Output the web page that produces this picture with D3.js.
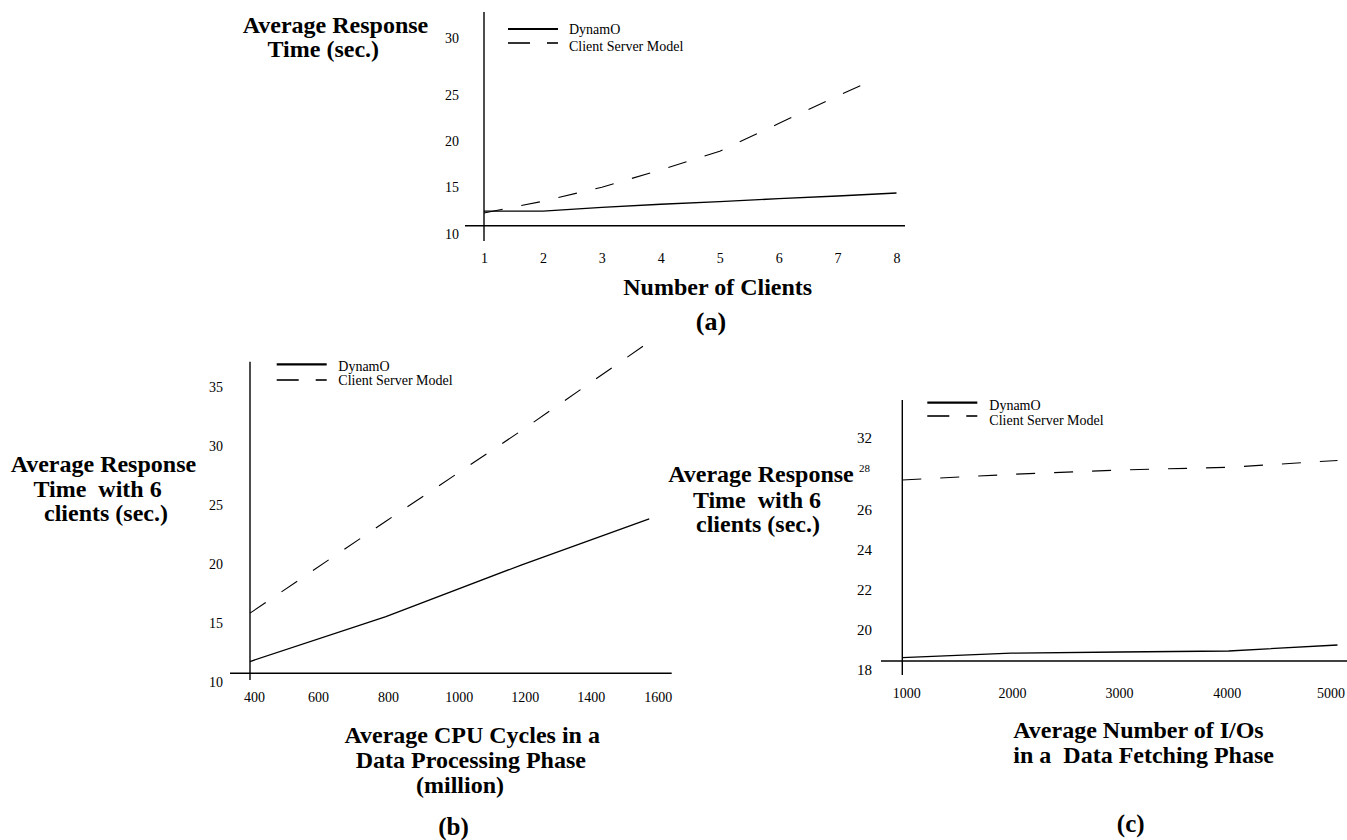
<!DOCTYPE html>
<html><head><meta charset="utf-8">
<script src="https://cdn.jsdelivr.net/npm/d3@7"></script>
<style>body{margin:0;background:#fff} svg{display:block} text{white-space:pre}</style>
</head><body>
<svg id="chart" width="1347" height="840"></svg>
<script>
// ---------------- data ----------------
const seriesNames = ["DynamO", "Client Server Model"];

// (a) Number of Clients vs Average Response Time
const xTicksA = [1, 2, 3, 4, 5, 6, 7, 8];
const yTicksA = [10, 15, 20, 25, 30];
const clientsDynA = [1, 2, 3, 4, 5, 6, 7, 8];
const dynamoA = [11.56, 11.56, 11.95, 12.28, 12.57, 12.87, 13.16, 13.48];
const clientsCsA = [1, 2, 3, 4, 5, 6, 7, 7.6];
const csA = [11.35, 12.6, 14.1, 15.95, 17.98, 21.0, 23.99, 25.59];

// (b) Average CPU cycles vs response time with 6 clients
const xTicksB = [400, 600, 800, 1000, 1200, 1400, 1600];
const yTicksB = [10, 15, 20, 25, 30, 35];
const cpuDynB = [400, 800, 1200, 1575];
const dynamoB = [11.0, 14.8, 19.2, 23.1];
const cpuCsB = [400, 800, 1200, 1600];
const csB = [15.1, 22.9, 30.6, 38.6];

// (c) Average number of I/Os vs response time with 6 clients
const xTicksC = [1000, 2000, 3000, 4000, 5000];
const yTicksC = [18, 20, 22, 24, 26, 28, 32];
const iosC = [1000, 2000, 3000, 4000, 5000];
const dynamoC = [18.17, 18.39, 18.45, 18.5, 18.8];
const csC = [27.01, 27.28, 27.49, 27.62, 27.95];

// ---------------- drawing ----------------
const svg = d3.select("#chart");
const FONT = "'Liberation Serif','Times New Roman',Times,serif";
const DASH = "19,19";

function zip(xs, ys) { return xs.map((x, i) => ({x, y: ys[i]})); }

function panel(cfg) {
  const g = svg.append("g");
  const x = cfg.x, y = cfg.y;
  const x0 = x.domain()[0], y0 = y.domain()[0];

  // axis lines
  g.append("line").attr("x1", x(x0)).attr("x2", x(x0))
    .attr("y1", cfg.yAxisTop).attr("y2", cfg.yAxisBottom)
    .attr("stroke", "#000").attr("stroke-width", 1.4);
  g.append("line").attr("x1", cfg.xAxisLeft).attr("x2", cfg.xAxisRight)
    .attr("y1", y(y0)).attr("y2", y(y0))
    .attr("stroke", "#000").attr("stroke-width", 1.4);

  // y tick labels
  const gy = g.append("g").attr("transform", `translate(${x(x0)},0)`)
    .call(d3.axisLeft(y).tickValues(cfg.yTicks).tickSize(0)
      .tickPadding(x(x0) - cfg.yLabelRight).tickFormat(d3.format("d")));
  gy.select(".domain").remove();
  gy.attr("font-family", FONT).attr("font-size", cfg.yFont || 14);
  gy.selectAll("text").attr("fill", "#000").attr("y", 8.3).attr("dy", "0.34em");
  if (cfg.smallTick !== undefined) {
    gy.selectAll(".tick").filter(d => d === cfg.smallTick)
      .select("text").attr("font-size", 11).attr("dx", -2);
  }

  // x tick labels
  const gx = g.append("g").attr("transform", `translate(0,${y(y0)})`)
    .call(d3.axisBottom(x).tickValues(cfg.xTicks).tickSize(0).tickPadding(0)
      .tickFormat(d3.format("d")));
  gx.select(".domain").remove();
  gx.attr("font-family", FONT).attr("font-size", 14);
  gx.selectAll("text").attr("fill", "#000").attr("y", cfg.xLabelOffset).attr("dy", "0.34em");
  if (cfg.xLabelDx) {
    gx.selectAll("text").attr("dx", (d, i) => cfg.xLabelDx[i] || 0);
  }

  // series
  const line = d3.line().x(d => x(d.x)).y(d => y(d.y));
  g.append("path").datum(zip(cfg.dynX, cfg.dynY)).attr("d", line)
    .attr("fill", "none").attr("stroke", "#000").attr("stroke-width", 1.3);
  g.append("path").datum(zip(cfg.csX, cfg.csY)).attr("d", line)
    .attr("fill", "none").attr("stroke", "#000").attr("stroke-width", 1.1)
    .attr("stroke-dasharray", DASH);

  // legend
  const L = cfg.legend;
  g.append("line").attr("x1", L.x1).attr("x2", L.x2).attr("y1", L.ySolid).attr("y2", L.ySolid)
    .attr("stroke", "#000").attr("stroke-width", 2.2);
  g.append("line").attr("x1", L.x1).attr("x2", L.x2).attr("y1", L.yDash).attr("y2", L.yDash)
    .attr("stroke", "#333").attr("stroke-width", 2).attr("stroke-dasharray", "22,17");
  g.append("text").attr("x", L.tx).attr("y", L.b1).text(seriesNames[0])
    .attr("font-family", FONT).attr("font-size", 14);
  g.append("text").attr("x", L.tx).attr("y", L.b2).text(seriesNames[1])
    .attr("font-family", FONT).attr("font-size", 14);

  // titles
  cfg.titles.forEach(t => {
    g.append("text").attr("x", t[0]).attr("y", t[1]).text(t[2])
      .attr("text-anchor", t[3] || "middle")
      .attr("font-family", FONT).attr("font-weight", "bold")
      .attr("font-size", t[4] || 24);
  });
}

// (a)
panel({
  x: d3.scaleLinear().domain([1, 8]).range([484, 896.5]),
  y: d3.scaleLinear().domain(yTicksA).range([225.7, 178.7, 132.7, 86.7, 29.7]),
  xTicks: xTicksA, yTicks: yTicksA,
  yAxisTop: 12, yAxisBottom: 241, xAxisLeft: 465, xAxisRight: 905,
  yLabelRight: 459, xLabelOffset: 32.3,
  dynX: clientsDynA, dynY: dynamoA, csX: clientsCsA, csY: csA,
  legend: {x1: 508, x2: 558, ySolid: 29, yDash: 43, tx: 569, b1: 33.6, b2: 50.6},
  titles: [
    [335.5, 33, "Average Response"],
    [323.3, 57, "Time (sec.)"],
    [717.7, 295, "Number of Clients"],
    [711, 330, "(a)", "middle", 26]
  ]
});

// (b)
panel({
  x: d3.scaleLinear().domain([400, 1600]).range([250, 657.7]),
  y: d3.scaleLinear().domain([10, 35]).range([673.3, 378.5]),
  xTicks: xTicksB, yTicks: yTicksB, xLabelDx: [4, 0, 2, 5, 3, 1, 0],
  yAxisTop: 361.7, yAxisBottom: 680, xAxisLeft: 230, xAxisRight: 671.7,
  yLabelRight: 223, xLabelOffset: 24,
  dynX: cpuDynB, dynY: dynamoB, csX: cpuCsB, csY: csB,
  legend: {x1: 276.7, x2: 326.7, ySolid: 364.3, yDash: 380, tx: 338.3, b1: 370.6, b2: 385.3},
  titles: [
    [103.4, 472, "Average Response"],
    [97.6, 497, "Time  with 6"],
    [106, 521, "clients (sec.)"],
    [472.2, 743.3, "Average CPU Cycles in a"],
    [470.8, 767.8, "Data Processing Phase"],
    [460, 792.5, "(million)"],
    [453.5, 834.5, "(b)", "middle", 25]
  ]
});

// (c)
panel({
  x: d3.scaleLinear().domain([1000, 5000]).range([902.3, 1337.5]),
  y: d3.scaleLinear().domain(yTicksC).range([661, 621, 581, 541, 501, 459.4, 428.7]),
  xTicks: xTicksC, yTicks: yTicksC, yFont: 15, smallTick: 28,
  xLabelDx: [4, 1, -1, -2, -7],
  yAxisTop: 400, yAxisBottom: 675, xAxisLeft: 881, xAxisRight: 1347,
  yLabelRight: 872, xLabelOffset: 32.3,
  dynX: iosC, dynY: dynamoC, csX: iosC, csY: csC,
  legend: {x1: 927.3, x2: 977.3, ySolid: 402.7, yDash: 416, tx: 989.3, b1: 409.6, b2: 424.6},
  titles: [
    [761, 482, "Average Response"],
    [757, 508, "Time  with 6"],
    [758, 532, "clients (sec.)"],
    [1013.3, 738.3, "Average Number of I/Os", "start"],
    [1013.3, 763.3, "in a  Data Fetching Phase", "start"],
    [1130.7, 832, "(c)", "middle", 25]
  ]
});
</script>
</body></html>
